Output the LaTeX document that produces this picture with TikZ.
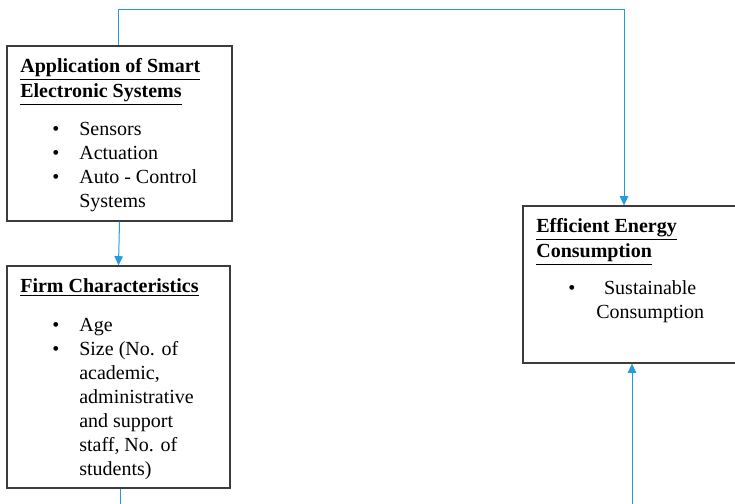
\documentclass[tikz,border=0pt]{standalone}
\usepackage{fontspec}
\setmainfont{Liberation Serif}
\usepackage{xcolor}
\usepackage{tikz}
\usetikzlibrary{positioning,arrows.meta,fit}

\definecolor{boxgray}{RGB}{60,60,60}
\definecolor{linkblue}{RGB}{35,155,220}

\tikzset{
  box/.style={draw=boxgray, line width=0.75pt, inner sep=0pt},
  heading/.style={font=\fontsize{12}{14.4}\selectfont\bfseries, inner sep=0pt, anchor=base west},
  items/.style={font=\fontsize{12}{14.4}\selectfont, inner sep=0pt, anchor=base west},
  link/.style={draw=linkblue, line width=0.6pt},
  arrowlink/.style={link, -{Triangle[width=5pt,length=5.5pt]}}
}

\begin{document}
\begin{tikzpicture}[x=0.6pt, y=-0.6pt]
\clip (0,0) rectangle (735,504);

% Boxes
\node[box, fit={(7,46) (232,221)}] (smart) {};
\node[box, fit={(7,266) (230,488)}] (firm) {};
\node[box, fit={(523,206) (745,363)}] (eff) {};

% Smart systems text
\node[heading] (smarttitle) at (20,73) {\begin{tabular}[t]{@{}l@{}}
  \underline{Application of Smart}\\ \underline{Electronic Systems}\end{tabular}};
\node[items] (smartlist) at (52,136) {\begin{tabular}[t]{@{}p{16.2pt}@{}l@{}}
  \textbullet & Sensors\\
  \textbullet & Actuation\\
  \textbullet & Auto - Control\\
  & Systems\end{tabular}};

% Firm text
\node[heading] (firmtitle) at (20,293) {\underline{Firm Characteristics}};
\node[items] (firmlist) at (52,332) {\begin{tabular}[t]{@{}p{16.2pt}@{}l@{}}
  \textbullet & Age\\
  \textbullet & Size (No. of\\
  & academic,\\
  & administrative\\
  & and support\\
  & staff, No. of\\
  & students)\end{tabular}};

% Energy text
\node[heading] (efftitle) at (536,233) {\begin{tabular}[t]{@{}l@{}}
  \underline{Efficient Energy}\\ \underline{Consumption}\end{tabular}};
\node[items] (efflist) at (568,295) {\begin{tabular}[t]{@{}p{16.8pt}@{}c@{}}
  \textbullet & Sustainable\\
  & Consumption\end{tabular}};

% Connectors
\coordinate (topleft) at (118,10);
\coordinate (topright) at (624,10);
\coordinate (firmout) at (120,510);
\coordinate (effin) at (632,510);

\draw[arrowlink] (smart.north -| topleft) -- (topleft) -- (topright) -- (eff.north -| topright);
\draw[arrowlink] (smart.south) -- (firm.north);
\draw[link] (firm.south -| firmout) -- (firmout);
\draw[arrowlink] (effin) -- (eff.south -| effin);
\end{tikzpicture}
\end{document}
